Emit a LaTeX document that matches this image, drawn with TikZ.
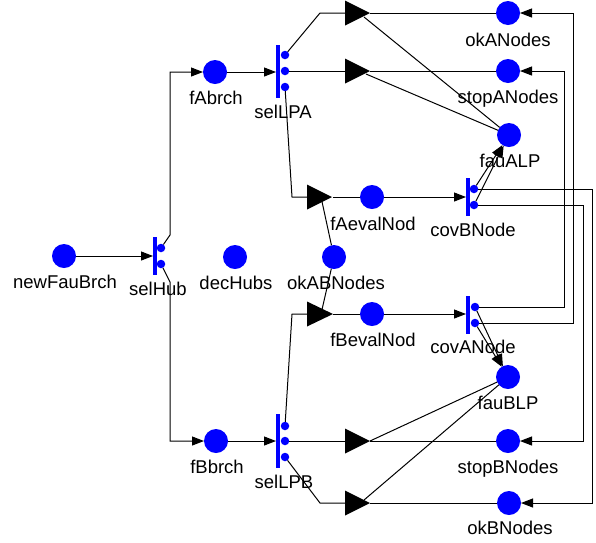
\documentclass[tikz,border=0pt]{standalone}
\usepackage{fontspec}
\setmainfont{Liberation Sans}
\usetikzlibrary{arrows.meta}
\begin{document}
\begin{tikzpicture}[x=1pt,y=-1pt,
  place/.style={circle, fill=blue, minimum size=24pt, inner sep=0pt, outer sep=0pt},
  tbar/.style={rectangle, fill=blue, minimum width=4pt, inner sep=0pt, outer sep=0pt},
  tdot/.style={circle, fill=blue, minimum size=8.5pt, inner sep=0pt, outer sep=0pt},
  lbl/.style={font=\fontsize{18.5}{20}\selectfont, anchor=base, inner sep=0pt},
  arc/.style={line width=1pt, draw=black},
  arr/.style={arc, -{Triangle[length=12pt,width=9pt]}},
  bigtri/.style={fill=black}
]
\useasboundingbox (0,0) rectangle (596,542);

% places
\node[place] (newFau) at (64,256) {};
\node[place] (decHubs) at (235,257) {};
\node[place] (fAbrch) at (215,72) {};
\node[place] (fBbrch) at (216,441) {};
\node[place] (fAeval) at (372,197) {};
\node[place] (fBeval) at (372,314) {};
\node[place] (okAB) at (334,257) {};
\node[place] (okA) at (508,13) {};
\node[place] (stopA) at (508,71) {};
\node[place] (fauALP) at (509,135) {};
\node[place] (fauBLP) at (508,377) {};
\node[place] (stopB) at (508,441) {};
\node[place] (okB) at (509,503) {};

% transitions
\node[tbar, minimum height=38pt] (selHub) at (155,256) {};
\node[tdot] (selHub-1) at (161,248) {};
\node[tdot] (selHub-2) at (161,264) {};
\node[tbar, minimum height=53pt] (selLPA) at (278,71.5) {};
\node[tdot] (selLPA-1) at (285,55) {};
\node[tdot] (selLPA-2) at (285,71) {};
\node[tdot] (selLPA-3) at (285,87) {};
\node[tbar, minimum height=54pt] (selLPB) at (278,441) {};
\node[tdot] (selLPB-1) at (285,426) {};
\node[tdot] (selLPB-2) at (285,441) {};
\node[tdot] (selLPB-3) at (285,457) {};
\node[tbar, minimum height=38pt] (covB) at (468,197) {};
\node[tdot] (covB-1) at (474,189) {};
\node[tdot] (covB-2) at (474,205) {};
\node[tbar, minimum height=38pt] (covA) at (468,315) {};
\node[tdot] (covA-1) at (475,307) {};
\node[tdot] (covA-2) at (475,323) {};

% labels
\node[lbl] (l-newFau) at (65,288) {newFauBrch};
\node[lbl] (l-selHub) at (158,295) {selHub};
\node[lbl] (l-decHubs) at (236,289) {decHubs};
\node[lbl] (l-fAbrch) at (216,104) {fAbrch};
\node[lbl] (l-selLPA) at (283,118) {selLPA};
\node[lbl] (l-fBbrch) at (217,473) {fBbrch};
\node[lbl] (l-selLPB) at (284,488) {selLPB};
\node[lbl] (l-fAeval) at (373,230) {fAevalNod};
\node[lbl] (l-okAB) at (336,289) {okABNodes};
\node[lbl] (l-fBeval) at (373,346) {fBevalNod};
\node[lbl] (l-covB) at (473,236) {covBNode};
\node[lbl] (l-covA) at (473,353) {covANode};
\node[lbl] (l-okA) at (508,46) {okANodes};
\node[lbl] (l-stopA) at (508,103) {stopANodes};
\node[lbl] (l-fauALP) at (510,167) {fauALP};
\node[lbl] (l-fauBLP) at (508,409) {fauBLP};
\node[lbl] (l-stopB) at (508,473) {stopBNodes};
\node[lbl] (l-okB) at (510,534) {okBNodes};

% triangle anchor points
\coordinate (t1b) at (345,13);  \coordinate (t1t) at (370,13);  \coordinate (t1e) at (364,17);
\coordinate (t2b) at (345,71);  \coordinate (t2t) at (370,71);  \coordinate (t2e) at (366,74);
\coordinate (t3b) at (307,197); \coordinate (t3t) at (333,197); \coordinate (t3m) at (321,197);
\coordinate (t4b) at (307,314); \coordinate (t4t) at (333,314); \coordinate (t4m) at (321,314);
\coordinate (t5b) at (345,441); \coordinate (t5t) at (370,441);
\coordinate (t6b) at (345,503); \coordinate (t6t) at (370,503); \coordinate (t6e) at (364,500);

% connectors
\draw[arr] (newFau) -- (selHub.west);
\draw[arr] (selHub-1) -- (170,235) |- (fAbrch.west);
\draw[arr] (selHub-2) -- (170,282) |- (fBbrch.west);
\draw[arr] (fAbrch) -- (fAbrch -| selLPA.west);
\draw[arr] (fBbrch) -- (fBbrch -| selLPB.west);

\draw[arc] (selLPA-1) -- (320,13) -- (t1b);
\draw[arc] (t1t) -- (okA);
\draw[arc] (selLPA-2) -- (t2b);
\draw[arc] (t2t) -- (stopA);
\draw[arc] (selLPA-3) -- (292,197) -- (t3b);
\draw[arc] (t3t) -- (fAeval);
\draw[arr] (fAeval) -- (fAeval -| covB.west);

\draw[arc] (selLPB-1) -- (292,314) -- (t4b);
\draw[arc] (t4t) -- (fBeval);
\draw[arr] (fBeval) -- (fBeval -| covA.west);
\draw[arc] (selLPB-2) -- (t5b);
\draw[arc] (t5t) -- (stopB);
\draw[arc] (selLPB-3) -- (320,503) -- (t6b);
\draw[arc] (t6t) -- (okB);

\draw[arc] (okAB) -- (t3m);
\draw[arc] (okAB) -- (t4m);

\draw[arc] (fauALP) -- (t1e);
\draw[arc] (fauALP) -- (t2e);
\draw[arc] (fauBLP) -- (t5t);
\draw[arc] (fauBLP) -- (t6e);

\draw[arr] (covB-1) -- (fauALP);
\draw[arr] (covB-2) -- (fauALP);
\draw[arr] (covA-1) -- (fauBLP);
\draw[arr] (covA-2) -- (fauBLP);

\draw[arr] (covA-1) -- ++(89,0) |- (stopA.east);
\draw[arr] (covA-2) -- ++(98,0) |- (okA.east);
\draw[arr] (covB-1) -- ++(118,0) |- (okB.east);
\draw[arr] (covB-2) -- ++(109,0) |- (stopB.east);

% big triangles
\foreach \t in {t1b,t2b,t3b,t5b,t6b}{
  \fill[bigtri] (\t) ++(0,-12.5) -- ++(25,12.5) -- ++(-25,12.5) -- cycle;
}
\fill[bigtri] (t4b) ++(0,-12.5) -- ++(26,12.5) -- ++(-26,12.5) -- cycle;
\end{tikzpicture}
\end{document}
